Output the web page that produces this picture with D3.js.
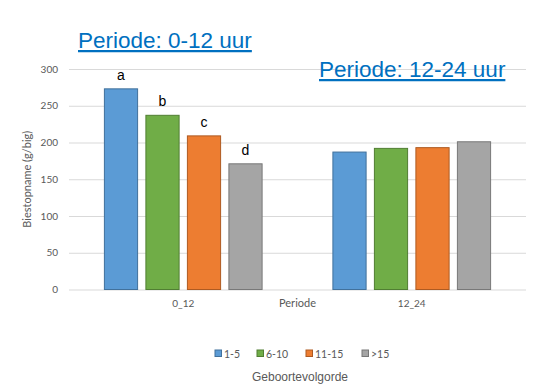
<!DOCTYPE html>
<html><head><meta charset="utf-8">
<script src="https://cdn.jsdelivr.net/npm/d3@7"></script>
<style>body{margin:0;background:#fff}svg{display:block}</style>
</head><body>
<svg id="c" width="545" height="387"></svg>
<script>
const periods = ["0_12", "12_24"];
const groups = ["1-5", "6-10", "11-15", ">15"];
const values = {
  "1-5":   [273, 187],
  "6-10":  [237, 192],
  "11-15": [209, 193],
  ">15":   [171, 201]
};
const letters = ["a", "b", "c", "d"];
const yTicks = [0, 50, 100, 150, 200, 250, 300];
const fills = ["#5B9BD5", "#70AD47", "#ED7D31", "#A5A5A5"];
const strokes = ["#41719C", "#507E32", "#AE5A21", "#787878"];

const svg = d3.select("#c");
const L = 69, R = 526, T = 69, B = 289.5;
const x0 = d3.scaleBand().domain(periods).range([L, R]);
const x1 = d3.scaleBand().domain(groups).range([0, 166]).paddingInner(0.2).paddingOuter(0.1);
const y = d3.scaleLinear().domain([0, 300]).range([B, T]);
const txtFont = "Lato, 'Open Sans', sans-serif";

// gridlines
const yAxis = d3.axisLeft(y).tickValues(yTicks).tickSize(-(R - L)).tickPadding(11);
const ga = svg.append("g").attr("transform", `translate(${L},0)`).call(yAxis);
ga.select(".domain").remove();
ga.selectAll(".tick line").attr("stroke", "#d9d9d9").attr("stroke-width", 1);
ga.selectAll(".tick text").attr("fill", "#595959").attr("font-size", 10).attr("font-family", txtFont);

// bars
const off = (x0.bandwidth() - 166) / 2;
periods.forEach((p, pi) => {
  const g = svg.append("g").attr("transform", `translate(${x0(p) + off},0)`);
  groups.forEach((k, gi) => {
    const v = values[k][pi];
    g.append("rect")
      .attr("x", x1(k)).attr("width", x1.bandwidth())
      .attr("y", y(v)).attr("height", y(0) - y(v))
      .attr("fill", fills[gi]).attr("stroke", strokes[gi]).attr("stroke-width", 1);
    if (pi === 0) {
      g.append("text").attr("x", x1(k) + x1.bandwidth() / 2).attr("y", y(v) - 9)
        .attr("text-anchor", "middle").attr("font-size", 14)
        .attr("font-family", "'Liberation Sans', Arial, sans-serif").attr("fill", "#000")
        .text(letters[gi]);
    }
  });
});

// x axis labels
const xa = svg.append("g").attr("transform", `translate(0,${B})`)
  .call(d3.axisBottom(x0).tickSize(0).tickPadding(10));
xa.select(".domain").remove();
xa.selectAll(".tick text").attr("fill", "#595959").attr("font-size", 10).attr("font-family", txtFont);

svg.append("text").attr("x", (L + R) / 2).attr("y", 307).attr("text-anchor", "middle")
  .attr("font-size", 11).attr("font-family", txtFont).attr("fill", "#595959").text("Periode");

svg.append("text").attr("transform", `translate(31,${(T + B) / 2}) rotate(-90)`)
  .attr("text-anchor", "middle").attr("font-size", 11).attr("font-family", txtFont)
  .attr("fill", "#595959").text("Biestopname (g/big)");

// legend
const legX = [215, 257, 306, 362];
groups.forEach((k, i) => {
  svg.append("rect").attr("x", legX[i]).attr("y", 350).attr("width", 6.5).attr("height", 6.5)
    .attr("fill", fills[i]).attr("stroke", strokes[i]).attr("stroke-width", 1);
  svg.append("text").attr("x", legX[i] + 9).attr("y", 357.5).attr("font-size", 10.5)
    .attr("font-family", txtFont).attr("fill", "#595959").text(k);
});
svg.append("text").attr("x", 300).attr("y", 381).attr("text-anchor", "middle")
  .attr("font-size", 12).attr("font-family", "'Liberation Sans', Arial, sans-serif")
  .attr("fill", "#595959").text("Geboortevolgorde");

// titles
function title(xp, yp, s) {
  svg.append("text").attr("x", xp).attr("y", yp).attr("font-size", 22.5)
    .attr("font-family", "'Liberation Sans', Arial, sans-serif").attr("fill", "#0070C0")
    .attr("text-decoration", "underline").text(s);
}
title(78, 48, "Periode: 0-12 uur");
title(319, 77, "Periode: 12-24 uur");
</script>
</body></html>
